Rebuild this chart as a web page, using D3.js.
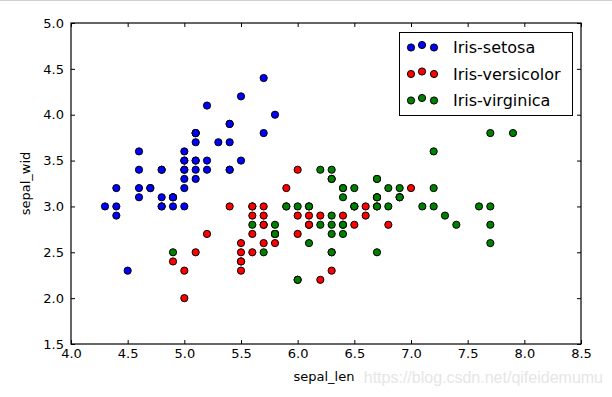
<!DOCTYPE html>
<html>
<head>
<meta charset="utf-8">
<script src="https://cdn.jsdelivr.net/npm/d3@7"></script>
<style>
  body { margin: 0; background: #fff; }
  svg { display: block; font-family: "DejaVu Sans", sans-serif; }
</style>
</head>
<body>
<div id="chart"></div>
<script>
// Iris data: [sepal_len, sepal_wid]
var setosa = [
  [5.1,3.5],[4.9,3.0],[4.7,3.2],[4.6,3.1],[5.0,3.6],[5.4,3.9],[4.6,3.4],[5.0,3.4],[4.4,2.9],[4.9,3.1],
  [5.4,3.7],[4.8,3.4],[4.8,3.0],[4.3,3.0],[5.8,4.0],[5.7,4.4],[5.4,3.9],[5.1,3.5],[5.7,3.8],[5.1,3.8],
  [5.4,3.4],[5.1,3.7],[4.6,3.6],[5.1,3.3],[4.8,3.4],[5.0,3.0],[5.0,3.4],[5.2,3.5],[5.2,3.4],[4.7,3.2],
  [4.8,3.1],[5.4,3.4],[5.2,4.1],[5.5,4.2],[4.9,3.1],[5.0,3.2],[5.5,3.5],[4.9,3.1],[4.4,3.0],[5.1,3.4],
  [5.0,3.5],[4.5,2.3],[4.4,3.2],[5.0,3.5],[5.1,3.8],[4.8,3.0],[5.1,3.8],[4.6,3.2],[5.3,3.7],[5.0,3.3]
];
var versicolor = [
  [7.0,3.2],[6.4,3.2],[6.9,3.1],[5.5,2.3],[6.5,2.8],[5.7,2.8],[6.3,3.3],[4.9,2.4],[6.6,2.9],[5.2,2.7],
  [5.0,2.0],[5.9,3.0],[6.0,2.2],[6.1,2.9],[5.6,2.9],[6.7,3.1],[5.6,3.0],[5.8,2.7],[6.2,2.2],[5.6,2.5],
  [5.9,3.2],[6.1,2.8],[6.3,2.5],[6.1,2.8],[6.4,2.9],[6.6,3.0],[6.8,2.8],[6.7,3.0],[6.0,2.9],[5.7,2.6],
  [5.5,2.4],[5.5,2.4],[5.8,2.7],[6.0,2.7],[5.4,3.0],[6.0,3.4],[6.7,3.1],[6.3,2.3],[5.6,3.0],[5.5,2.5],
  [5.5,2.6],[6.1,3.0],[5.8,2.6],[5.0,2.3],[5.6,2.7],[5.7,3.0],[5.7,2.9],[6.2,2.9],[5.1,2.5],[5.7,2.8]
];
var virginica = [
  [6.3,3.3],[5.8,2.7],[7.1,3.0],[6.3,2.9],[6.5,3.0],[7.6,3.0],[4.9,2.5],[7.3,2.9],[6.7,2.5],[7.2,3.6],
  [6.5,3.2],[6.4,2.7],[6.8,3.0],[5.7,2.5],[5.8,2.8],[6.4,3.2],[6.5,3.0],[7.7,3.8],[7.7,2.6],[6.0,2.2],
  [6.9,3.2],[5.6,2.8],[7.7,2.8],[6.3,2.7],[6.7,3.3],[7.2,3.2],[6.2,2.8],[6.1,3.0],[6.4,2.8],[7.2,3.0],
  [7.4,2.8],[7.9,3.8],[6.4,2.8],[6.3,2.8],[6.1,2.6],[7.7,3.0],[6.3,3.4],[6.4,3.1],[6.0,3.0],[6.9,3.1],
  [6.7,3.1],[6.9,3.1],[5.8,2.7],[6.8,3.2],[6.7,3.3],[6.7,3.0],[6.3,2.5],[6.5,3.0],[6.2,3.4],[5.9,3.0]
];
var speciesNames = ["Iris-setosa", "Iris-versicolor", "Iris-virginica"];
var speciesColors = ["#0000ff", "#ff0000", "#008000"];
var xTicks = [4.0, 4.5, 5.0, 5.5, 6.0, 6.5, 7.0, 7.5, 8.0, 8.5];
var yTicks = [1.5, 2.0, 2.5, 3.0, 3.5, 4.0, 4.5, 5.0];

var w = 612, h = 397;
var plotL = 71, plotR = 581, plotT = 23, plotB = 344;

var svg = d3.select("#chart").append("svg")
    .attr("width", w)
    .attr("height", h);

// thin border line at the top of the image
svg.append("line")
    .attr("x1", 0).attr("x2", w).attr("y1", 0.5).attr("y2", 0.5)
    .style("stroke", "#d0d0d0");

var x = d3.scaleLinear().domain([4.0, 8.5]).range([plotL, plotR]);
var y = d3.scaleLinear().domain([1.5, 5.0]).range([plotB, plotT]);

var fmt = d3.format(".1f");

// axes: ticks inside on every side
var styleAxis = function (g) {
    g.select(".domain").remove();
    g.selectAll("line").style("stroke", "#000");
    g.selectAll("text").style("font-size", "13px").style("fill", "#000")
        .style("font-family", "DejaVu Sans, sans-serif");
};

svg.append("g").attr("transform", "translate(0," + plotB + ")")
    .call(d3.axisBottom(x).tickValues(xTicks).tickFormat(fmt).tickSizeInner(-4).tickSizeOuter(0).tickPadding(5))
    .call(styleAxis);
svg.append("g").attr("transform", "translate(0," + plotT + ")")
    .call(d3.axisTop(x).tickValues(xTicks).tickFormat("").tickSizeInner(-4).tickSizeOuter(0))
    .call(styleAxis);
svg.append("g").attr("transform", "translate(" + plotL + ",0)")
    .call(d3.axisLeft(y).tickValues(yTicks).tickFormat(fmt).tickSizeInner(-4).tickSizeOuter(0).tickPadding(7))
    .call(styleAxis);
svg.append("g").attr("transform", "translate(" + plotR + ",0)")
    .call(d3.axisRight(y).tickValues(yTicks).tickFormat("").tickSizeInner(-4).tickSizeOuter(0))
    .call(styleAxis);

// points
var series = [setosa, versicolor, virginica];
series.forEach(function (data, i) {
    svg.append("g").selectAll("circle")
        .data(data)
        .enter()
        .append("circle")
        .attr("cx", function (d) { return x(d[0]); })
        .attr("cy", function (d) { return y(d[1]); })
        .attr("r", 3.6)
        .style("fill", speciesColors[i])
        .style("stroke", "#000")
        .style("stroke-width", 1);
});

// frame
svg.append("rect")
    .attr("x", plotL).attr("y", plotT)
    .attr("width", plotR - plotL).attr("height", plotB - plotT)
    .style("fill", "none").style("stroke", "#000").style("stroke-width", 1.2);

// axis labels
svg.append("text")
    .attr("x", 324).attr("y", 381)
    .attr("text-anchor", "middle")
    .style("font-size", "13px")
    .text("sepal_len");
svg.append("text")
    .attr("transform", "translate(30," + (plotT + plotB) / 2 + ") rotate(-90)")
    .attr("text-anchor", "middle")
    .style("font-size", "13px")
    .text("sepal_wid");

// legend
var legend = svg.append("g");
legend.append("rect")
    .attr("x", 399.5).attr("y", 32.5).attr("width", 173).attr("height", 83)
    .style("fill", "#fff").style("stroke", "#000").style("stroke-width", 1);

var rowY = d3.scalePoint().domain(speciesNames).range([47, 100]);
var offsets = [[411, 1], [422, -1.5], [434, 1]];
speciesNames.forEach(function (name, i) {
    offsets.forEach(function (o) {
        legend.append("circle")
            .attr("cx", o[0]).attr("cy", rowY(name) + o[1] - 0.5)
            .attr("r", 3.6)
            .style("fill", speciesColors[i])
            .style("stroke", "#000");
    });
    legend.append("text")
        .attr("x", 453).attr("y", rowY(name) + 6)
        .style("font-size", "16px")
        .text(name);
});

// watermark
svg.append("text")
    .attr("x", 603).attr("y", 383)
    .attr("text-anchor", "end")
    .style("font-family", "Liberation Sans, Arial, sans-serif")
    .style("font-size", "16px")
    .style("fill", "#e6e6e6")
    .text("https://blog.csdn.net/qifeidemumu");
</script>
</body>
</html>
